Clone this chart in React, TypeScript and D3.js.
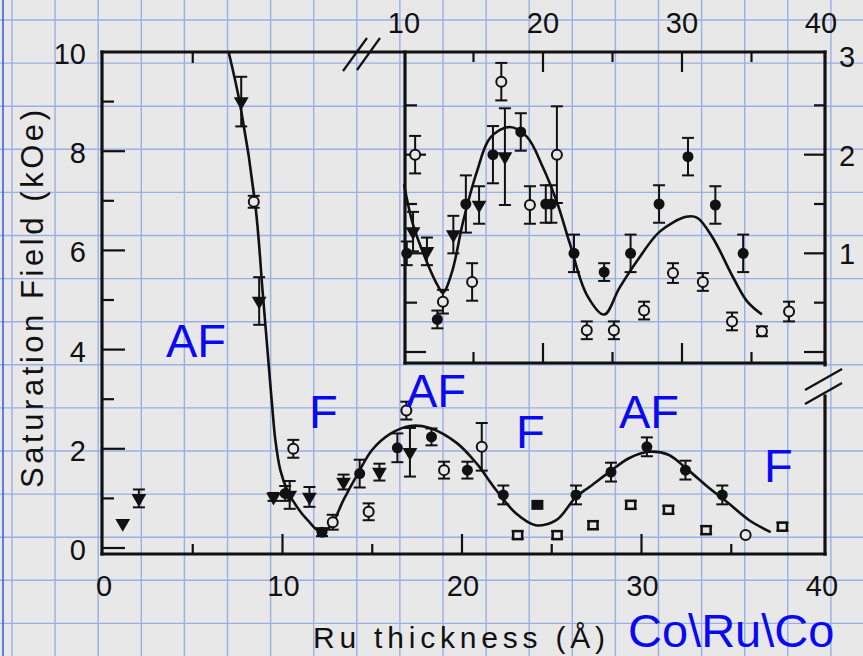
import React from "react";
import * as d3 from "d3";

const W = 863;
const H = 656;
const PAPER = "#e8e8e8";
const INK = "#111111";
const BLUE = "#0a0af2";
const FONT = "'Liberation Sans', Arial, Helvetica, sans-serif";

// ---------- Main panel (Ru thickness in Å, saturation field in kOe, error) ----------
const mainTriangles: [number, number, number][] = [
  [1.1, 0.5, 0], [2.0, 1.0, 0.18], [7.7, 9.0, 0.5], [8.7, 4.98, 0.48],
  [9.5, 1.03, 0.08], [10.4, 1.07, 0.28], [11.5, 1.03, 0.2], [13.4, 1.33, 0.15],
  [15.4, 1.53, 0.17], [17.1, 1.93, 0.49],
];
const mainFilled: [number, number, number][] = [
  [10.15, 1.1, 0.15], [12.2, 0.32, 0.08], [14.3, 1.5, 0.28], [16.4, 2.02, 0.29],
  [18.3, 2.24, 0.17], [20.3, 1.57, 0.17], [22.3, 1.07, 0.19], [26.35, 1.07, 0.19],
  [28.3, 1.53, 0.19], [30.3, 2.04, 0.19], [32.45, 1.57, 0.19], [34.5, 1.07, 0.19],
];
const mainFilledSquares: [number, number, number][] = [[24.2, 0.87, 0]];
const mainOpen: [number, number, number][] = [
  [8.4, 6.98, 0.12], [10.6, 2.0, 0.18], [12.8, 0.52, 0.15], [14.8, 0.73, 0.17],
  [16.9, 2.77, 0.18], [19.0, 1.57, 0.17], [21.1, 2.04, 0.48], [35.8, 0.26, 0],
];
const mainOpenSquares: [number, number, number][] = [
  [23.1, 0.26, 0.08], [25.3, 0.26, 0.08], [27.3, 0.46, 0.08], [29.4, 0.87, 0.08],
  [31.5, 0.77, 0.08], [33.6, 0.36, 0.08], [37.85, 0.43, 0.08],
];
const mainFit: [number, number][] = [
  [7.0, 10.0], [7.66, 8.9], [8.5, 6.87], [8.9, 5.14], [9.3, 3.39], [9.43, 2.84],
  [9.6, 2.18], [9.88, 1.57], [10.26, 1.17], [10.8, 0.83], [11.4, 0.56], [12.15, 0.32],
  [12.7, 0.45], [13.4, 0.97], [14.2, 1.5], [15.0, 1.98], [16.0, 2.3], [17.1, 2.46],
  [18.2, 2.42], [19.7, 2.12], [20.8, 1.71], [21.9, 1.17], [23.0, 0.7], [24.1, 0.46],
  [25.25, 0.56], [26.35, 1.03], [27.1, 1.23], [28.2, 1.53], [29.3, 1.81], [30.4, 1.94],
  [31.5, 1.88], [32.6, 1.57], [33.7, 1.23], [34.85, 0.9], [36.0, 0.56], [37.2, 0.32],
];

// ---------- Inset panel ----------
const insetFilled: [number, number, number][] = [
  [10.2, 1.0, 0.12], [12.4, 0.33, 0.09], [14.45, 1.5, 0.29], [16.4, 2.0, 0.29],
  [18.4, 2.23, 0.19], [20.2, 1.5, 0.19], [20.6, 1.5, 0.19], [22.23, 1.0, 0.19],
  [24.4, 0.81, 0.09], [26.3, 1.0, 0.19], [28.35, 1.5, 0.19], [30.43, 1.98, 0.19],
  [32.4, 1.49, 0.19], [34.4, 1.0, 0.19],
];
const insetTriangles: [number, number, number][] = [
  [10.65, 1.22, 0.2], [11.65, 1.02, 0.14], [13.55, 1.19, 0.19], [15.4, 1.49, 0.19],
  [17.26, 1.98, 0.49],
];
const insetOpen: [number, number, number][] = [
  [10.8, 2.0, 0.19], [12.8, 0.51, 0.12], [14.9, 0.71, 0.19], [17.0, 2.74, 0.19],
  [19.06, 1.49, 0.19], [21.0, 2.0, 0.49], [23.15, 0.22, 0.09], [25.1, 0.22, 0.09],
  [27.27, 0.42, 0.09], [29.35, 0.8, 0.1], [31.5, 0.71, 0.09], [33.6, 0.31, 0.09],
  [35.75, 0.21, 0.05], [37.7, 0.41, 0.1],
];
const insetFit: [number, number][] = [
  [10.0, 1.7], [10.65, 1.29], [11.65, 0.91], [12.4, 0.68], [12.8, 0.6], [13.45, 0.81],
  [14.25, 1.32], [15.25, 1.83], [16.2, 2.17], [17.6, 2.28], [18.85, 2.18], [20.0, 1.87],
  [21.0, 1.52], [21.95, 1.09], [23.15, 0.58], [24.4, 0.38], [25.5, 0.65], [26.9, 0.95],
  [28.4, 1.22], [30.3, 1.37], [31.1, 1.36], [32.2, 1.16], [33.7, 0.75], [34.7, 0.51],
  [35.75, 0.38],
];

// ---------- Tick labels / annotations ----------
const mainYTicks = [0, 2, 4, 6, 8, 10];
const mainYMinor = [1, 3, 5, 7, 9];
const mainXTicks = [0, 10, 20, 30, 40];
const mainXMajor = [10, 20, 30];
const mainXMinor = [5, 15, 25, 35];
const insetXLabels = [10, 20, 30, 40];
const insetXMajor = [20, 30];
const insetXMinor = [15, 25, 35];
const insetYLabels = [1, 2, 3];
const insetYMajor = [0, 1, 2];
const insetYMinor = [0.5, 1.5, 2.5];
const annotations: [string, number, number][] = [
  ["AF", 166, 357], ["F", 309, 428], ["AF", 406, 407], ["F", 516, 448],
  ["AF", 619, 428], ["F", 764, 482], ["Co\\Ru\\Co", 628, 647],
];

type Scale = d3.ScaleLinear<number, number>;

function ErrBar({ cx, y0, y1 }: { cx: number; y0: number; y1: number }) {
  return (
    <g stroke={INK} strokeWidth={2}>
      <line x1={cx} x2={cx} y1={y0} y2={y1} />
      <line x1={cx - 6} x2={cx + 6} y1={y0} y2={y0} />
      <line x1={cx - 6} x2={cx + 6} y1={y1} y2={y1} />
    </g>
  );
}

function Points({ data, xs, ys, kind }: { data: [number, number, number][]; xs: Scale; ys: Scale; kind: string }) {
  const tri = d3.symbol().type(d3.symbolTriangle).size(95)() as string;
  return (
    <g>
      {data.map(([a, b, e], i) => {
        const cx = xs(a);
        const cy = ys(b);
        let mark: React.ReactNode = null;
        if (kind === "filled") mark = <circle cx={cx} cy={cy} r={5.5} fill={INK} />;
        else if (kind === "open")
          mark = <circle cx={cx} cy={cy} r={5} fill={PAPER} stroke={INK} strokeWidth={2} />;
        else if (kind === "tri")
          mark = <path d={tri} transform={`translate(${cx},${cy}) rotate(180)`} fill={INK} />;
        else if (kind === "osq")
          mark = <rect x={cx - 4.5} y={cy - 4} width={9} height={8} fill={PAPER} stroke={INK} strokeWidth={2.5} />;
        else if (kind === "fsq")
          mark = <rect x={cx - 6} y={cy - 5} width={12} height={10} fill={INK} />;
        return (
          <g key={i}>
            {e > 0 && <ErrBar cx={cx} y0={ys(b - e)} y1={ys(b + e)} />}
            {mark}
          </g>
        );
      })}
    </g>
  );
}

export default function App() {
  const x = d3.scaleLinear().domain([0, 40]).range([103, 821]);
  const y = d3.scaleLinear().domain([0, 10]).range([548, 52]);
  const xi = d3.scaleLinear().domain([10, 40]).range([404, 821]);
  const yi = d3.scaleLinear().domain([0, 3]).range([352, 56]);

  const L = 102, T = 52, R = 825, B = 554, IL = 405, IB = 363;

  const mainLine = d3.line<[number, number]>().x((d) => x(d[0])).y((d) => y(d[1])).curve(d3.curveCatmullRom.alpha(0.5));
  const insetLine = d3.line<[number, number]>().x((d) => xi(d[0])).y((d) => yi(d[1])).curve(d3.curveCatmullRom.alpha(0.5));

  const gridX = d3.range(0, 20).map((k) => 12 + 43.1 * k);
  const gridY = d3.range(0, 16).map((k) => 20 + 43.1 * k);

  return (
    <svg width={W} height={H} viewBox={`0 0 ${W} ${H}`} style={{ position: "absolute", left: 0, top: 0, display: "block" }} fontFamily={FONT}>
      <rect x={0} y={0} width={W} height={H} fill={PAPER} />
      <g stroke="#8ea6e4" strokeWidth={1.4} opacity={0.85}>
        {gridX.map((gx, i) => <line key={"gx" + i} x1={gx} x2={gx} y1={0} y2={H} />)}
        {gridY.map((gy, i) => <line key={"gy" + i} x1={0} x2={W} y1={gy} y2={gy} />)}
      </g>
      <line x1={3} x2={3} y1={0} y2={H} stroke="#3d63d6" strokeWidth={1.6} />

      {/* frames */}
      <g stroke={INK} strokeWidth={3.2} fill="none" strokeLinecap="square">
        <line x1={L} x2={L} y1={T} y2={B} />
        <line x1={L} x2={R} y1={B} y2={B} />
        <line x1={L} x2={R} y1={T} y2={T} />
        <line x1={R} x2={R} y1={T} y2={IB + 2} />
        <line x1={R} x2={R} y1={396} y2={B} />
        <line x1={IL} x2={IL} y1={T} y2={IB} />
        <line x1={IL} x2={R} y1={IB} y2={IB} />
      </g>
      {/* axis breaks */}
      <g stroke={INK} strokeWidth={2.2}>
        <line x1={343} y1={71} x2={367} y2={38} />
        <line x1={357} y1={70} x2={380} y2={38} />
        <line x1={805} y1={390} x2={842} y2={369} />
        <line x1={805} y1={404} x2={842} y2={383} />
      </g>

      {/* main ticks */}
      <g stroke={INK} strokeWidth={2.2}>
        {mainYTicks.filter((v) => v < 10).map((v) => <line key={"my" + v} x1={L} x2={L + 23} y1={y(v)} y2={y(v)} />)}
        {mainYMinor.map((v) => <line key={"mym" + v} x1={L} x2={L + 12} y1={y(v)} y2={y(v)} />)}
        {mainXMajor.map((v) => <line key={"mx" + v} x1={x(v)} x2={x(v)} y1={B} y2={B - 20} />)}
        {mainXMinor.map((v) => <line key={"mxm" + v} x1={x(v)} x2={x(v)} y1={B} y2={B - 10} />)}
        <line x1={x(5)} x2={x(5)} y1={T} y2={T + 11} />
        {/* inset ticks */}
        {insetXMajor.map((v) => <line key={"ixt" + v} x1={xi(v)} x2={xi(v)} y1={T} y2={T + 20} />)}
        {insetXMinor.map((v) => <line key={"ixtm" + v} x1={xi(v)} x2={xi(v)} y1={T} y2={T + 10} />)}
        {insetXMajor.map((v) => <line key={"ixb" + v} x1={xi(v)} x2={xi(v)} y1={IB} y2={IB - 20} />)}
        {insetXMinor.map((v) => <line key={"ixbm" + v} x1={xi(v)} x2={xi(v)} y1={IB} y2={IB - 11} />)}
        {insetYMajor.map((v) => <line key={"iyl" + v} x1={IL} x2={IL + 21} y1={yi(v)} y2={yi(v)} />)}
        {insetYMinor.map((v) => <line key={"iylm" + v} x1={IL} x2={IL + 12} y1={yi(v)} y2={yi(v)} />)}
        {insetYMajor.map((v) => <line key={"iyr" + v} x1={R} x2={R - 21} y1={yi(v)} y2={yi(v)} />)}
        {insetYMinor.map((v) => <line key={"iyrm" + v} x1={R} x2={R - 11} y1={yi(v)} y2={yi(v)} />)}
      </g>

      {/* fit curves */}
      <path d={mainLine(mainFit) as string} fill="none" stroke={INK} strokeWidth={2.6} />
      <path d={insetLine(insetFit) as string} fill="none" stroke={INK} strokeWidth={2.6} />

      {/* main points */}
      <Points data={mainOpenSquares} xs={x} ys={y} kind="osq" />
      <Points data={mainFilledSquares} xs={x} ys={y} kind="fsq" />
      <Points data={mainOpen} xs={x} ys={y} kind="open" />
      <Points data={mainFilled} xs={x} ys={y} kind="filled" />
      <Points data={mainTriangles} xs={x} ys={y} kind="tri" />

      {/* inset points */}
      <Points data={insetOpen} xs={xi} ys={yi} kind="open" />
      <Points data={insetFilled} xs={xi} ys={yi} kind="filled" />
      <Points data={insetTriangles} xs={xi} ys={yi} kind="tri" />

      {/* tick labels */}
      <g fill={INK} fontSize={29}>
        {mainYTicks.map((v) => (
          <text key={"ly" + v} x={86} y={y(v) + 12} textAnchor="end">{v}</text>
        ))}
        {mainXTicks.map((v) => (
          <text key={"lx" + v} x={x(v) + 1} y={596} textAnchor="middle">{v}</text>
        ))}
        {insetXLabels.map((v) => (
          <text key={"lix" + v} x={xi(v)} y={33} textAnchor="middle">{v}</text>
        ))}
        {insetYLabels.map((v) => (
          <text key={"liy" + v} x={839} y={yi(v) + 11} textAnchor="start">{v}</text>
        ))}
      </g>

      {/* axis titles */}
      <text x={313} y={648} fontSize={30} fill={INK} textLength={292} lengthAdjust="spacing">Ru thickness (Å)</text>
      <text transform="translate(43,299) rotate(-90)" fontSize={31} fill={INK} textAnchor="middle" textLength={378} lengthAdjust="spacing">Saturation Field (kOe)</text>

      {/* annotations */}
      <g fill={BLUE} fontSize={47}>
        {annotations.map(([t, ax, ay], i) => (
          <text key={"a" + i} x={ax} y={ay}>{t}</text>
        ))}
      </g>
    </svg>
  );
}
